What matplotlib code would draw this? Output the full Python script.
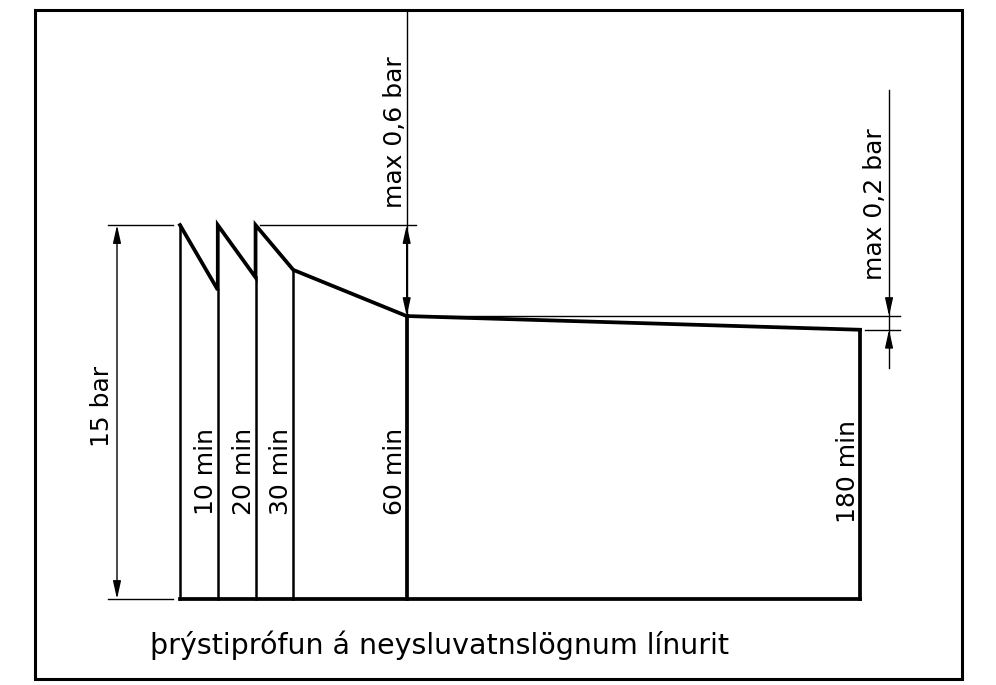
import matplotlib
matplotlib.use('Agg')
import matplotlib.pyplot as plt
from matplotlib.patches import Rectangle

# pressure test profile (time in min, pressure in bar, schematic)
t_profile = [0, 10, 10, 20, 20, 30, 60, 180]
p_profile = [15.0, 12.4, 15.0, 12.9, 15.0, 13.2, 11.35, 10.8]

# times where a vertical line is drawn, with their labels
t_marks = [10, 20, 30, 60, 180]
mark_labels = ['10 min', '20 min', '30 min', '60 min', '180 min']
p_test = 15.0
label_test = '15 bar'
label_drop1 = 'max 0,6 bar'
label_drop2 = 'max 0,2 bar'
title = 'þrýstiprófun á neysluvatnslögnum línurit'

# figure geometry: pixel scale of the drawing
W, H = 996, 685
px_min = 3.778     # pixels per minute
px_bar = 24.93     # pixels per bar
x0_px, y0_px = 180, 599

fig = plt.figure(figsize=(W / 100, H / 100), dpi=100)
ax = fig.add_axes([0, 0, 1, 1])
ax.set_xlim(-x0_px / px_min, (W - x0_px) / px_min)
ax.set_ylim((y0_px - H) / px_bar, y0_px / px_bar)
ax.axis('off')

dx = 1 / px_min   # one pixel in minutes
dy = 1 / px_bar   # one pixel in bar

thick = 2.7
thin = 1.0
fs = 18
font = 'DejaVu Sans'
arrow = dict(color='black', lw=thin, shrinkA=0, shrinkB=0, mutation_scale=12)

# profile line
ax.plot(t_profile, p_profile, color='black', lw=thick, solid_joinstyle='miter')
# start vertical and base line
ax.plot([0, 0], [0, p_profile[0]], color='black', lw=1.8)
ax.plot([t_profile[0], t_profile[-1]], [0, 0], color='black', lw=thick)

# vertical lines at each time mark, from the lower profile point down
low_p = {10: p_profile[1], 20: p_profile[3], 30: p_profile[5], 60: p_profile[6], 180: p_profile[7]}
for t in t_marks:
    ax.plot([t, t], [0, low_p[t]], color='black', lw=1.8 if t < 60 else thick)

# time labels
for t, lab in zip(t_marks, mark_labels):
    top = 428 if t != 180 else 420
    ax.text(t - 12 * dx, (y0_px - top) * dy, lab,
            rotation=90, ha='center', va='top', fontsize=fs, family=font)

# 15 bar dimension
xd = -63 * dx
ax.plot([-72 * dx, -7 * dx], [p_test, p_test], color='black', lw=thin)
ax.plot([-72 * dx, -7 * dx], [0, 0], color='black', lw=thin)
ax.annotate('', xy=(xd, p_test), xytext=(xd, 0),
            arrowprops=dict(arrowstyle='<|-|>,head_length=0.9,head_width=0.2', **arrow))
ax.text(xd - 15 * dx, (y0_px - 366) * dy, label_test, rotation=90, ha='center', va='top',
        fontsize=fs, family=font)

# max 0,6 bar dimension
ax.plot([20 + 4 * dx, 60 + 9 * dx], [p_test, p_test], color='black', lw=thin)
ax.plot([60, 60], [p_profile[6], (y0_px - 10) * dy], color='black', lw=thin)
ax.annotate('', xy=(60, p_test), xytext=(60, p_profile[6]),
            arrowprops=dict(arrowstyle='<|-|>,head_length=0.9,head_width=0.2', **arrow))
ax.text(60 - 12 * dx, (y0_px - 208) * dy, label_drop1, rotation=90, ha='center', va='bottom',
        fontsize=fs, family=font)

# max 0,2 bar dimension
xd2 = 180 + 29 * dx
ax.plot([60, 180 + 40 * dx], [p_profile[6], p_profile[6]], color='black', lw=thin)
ax.plot([180 + 5 * dx, 180 + 40 * dx], [p_profile[7], p_profile[7]], color='black', lw=thin)
ax.plot([xd2, xd2], [(y0_px - 368) * dy, (y0_px - 90) * dy], color='black', lw=thin)
ax.annotate('', xy=(xd2, p_profile[6]), xytext=(xd2, p_profile[6] + 16 * dy),
            arrowprops=dict(arrowstyle='-|>,head_length=0.9,head_width=0.2', **arrow))
ax.annotate('', xy=(xd2, p_profile[7]), xytext=(xd2, p_profile[7] - 16 * dy),
            arrowprops=dict(arrowstyle='-|>,head_length=0.9,head_width=0.2', **arrow))
ax.text(xd2 - 14 * dx, (y0_px - 280) * dy, label_drop2, rotation=90, ha='center', va='bottom',
        fontsize=fs, family=font)

# frame and title
fig.patches.append(Rectangle((35 / W, 1 - 679 / H), (962 - 35) / W, (679 - 10) / H,
                             transform=fig.transFigure, fill=False, lw=2.2, edgecolor='black'))
fig.text(150 / W, 1 - 645 / H, title, ha='left', va='center', fontsize=20.5, family=font)

fig.savefig('out.png', dpi=100)
